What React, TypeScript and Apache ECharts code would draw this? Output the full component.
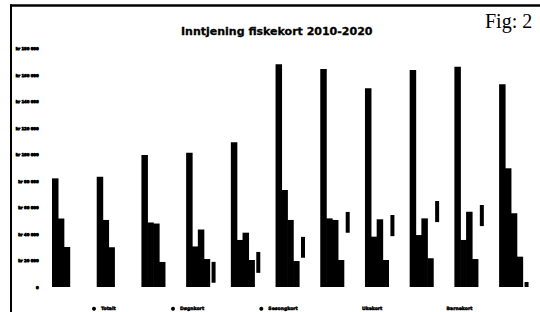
import React, { useEffect, useRef } from "react";
import * as echarts from "echarts";

const categories = ["2010", "2011", "2012", "2013", "2014", "2015", "2016", "2017", "2018", "2019", "2020"];
const seriesNames = ["Totalt", "Døgnkort", "Sesongkort", "Ukekort", "Barnekort"];
const totalt = [82000, 83200, 99600, 101400, 109200, 168100, 164500, 150000, 163800, 166300, 153000];
const dognkort = [51700, 50600, 48700, 30600, 35500, 73200, 51800, 38000, 39200, 35500, 89600];
const sesongkort = [30200, 30000, 47900, 43400, 41000, 50600, 50600, 51100, 51800, 56800, 55600];
const ukekort = [0, 0, 18900, 21100, 20400, 19600, 20400, 20400, 21700, 21100, 22900];
const barnekort = [0, 0, 0, 19100, 26600, 38000, 56800, 54300, 64900, 61900, 3800];
const yMin = 0;
const yMax = 180000;
const yStep = 20000;

function fmt(v: number): string {
  if (v === 0) return "0";
  const s = String(Math.round(v));
  return "kr " + s.replace(/\B(?=(\d{3})+(?!\d))/g, " ");
}

export default function App() {
  const ref = useRef<HTMLDivElement>(null);
  useEffect(() => {
    if (!ref.current) return;
    const chart = echarts.init(ref.current, undefined, { renderer: "svg" });
    const blackBar = {
      type: "bar" as const,
      barWidth: 6.5,
      barGap: "-10%",
      itemStyle: { color: "#000" },
    };
    const legendText = { fontFamily: "DejaVu Sans", fontWeight: "bold" as const, fontSize: 4.6, color: "#000", textBorderColor: "#000", textBorderWidth: 0.5 };
    const option: any = {
      animation: false,
      backgroundColor: "#fff",
      title: {
        text: "Inntjening fiskekort 2010-2020",
        left: 181,
        top: 26,
        padding: 0,
        textStyle: { fontFamily: "DejaVu Sans", fontWeight: "bold", fontSize: 11, color: "#000", textBorderColor: "#000", textBorderWidth: 0.3 },
      },
      graphic: [
        { type: "line", shape: { x1: 11, y1: 4.5, x2: 11, y2: 312 }, style: { stroke: "#000", lineWidth: 2 } },
        { type: "line", shape: { x1: 10, y1: 5.5, x2: 540, y2: 5.5 }, style: { stroke: "#000", lineWidth: 2.5 } },
        {
          type: "text",
          x: 485,
          y: 11,
          style: { text: "Fig: 2", fontFamily: "Liberation Serif", fontSize: 20, fill: "#000", textVerticalAlign: "top" },
        },
      ],
      legend: {
        data: [
          { name: seriesNames[0], textStyle: legendText },
          { name: seriesNames[1], textStyle: legendText },
          { name: seriesNames[2], textStyle: legendText },
          { name: seriesNames[3], icon: "none", textStyle: legendText },
          { name: seriesNames[4], icon: "none", textStyle: legendText },
        ],
        left: 92,
        top: 306,
        padding: 0,
        itemGap: 55,
        itemWidth: 4,
        itemHeight: 4,
        icon: "circle",
        textStyle: legendText,
      },
      grid: { left: 44.6, right: 3.6, top: 48.5, bottom: 25 },
      xAxis: {
        type: "category",
        data: categories,
        axisLine: { show: false },
        axisTick: { show: false },
        axisLabel: { show: false },
      },
      yAxis: {
        type: "value",
        min: yMin,
        max: yMax,
        interval: yStep,
        axisLine: { show: false },
        axisTick: { show: false },
        splitLine: { show: false },
        axisLabel: {
          margin: 6,
          formatter: fmt,
          fontFamily: "DejaVu Sans",
          fontWeight: "bold",
          fontSize: 3.8,
          color: "#000",
          textBorderColor: "#000",
          textBorderWidth: 0.8,
        },
      },
      series: [
        { ...blackBar, name: seriesNames[0], data: totalt },
        { ...blackBar, name: seriesNames[1], data: dognkort },
        { ...blackBar, name: seriesNames[2], data: sesongkort },
        { ...blackBar, name: seriesNames[3], data: ukekort },
        {
          type: "bar",
          barWidth: 6.5,
          barGap: "-10%",
          name: seriesNames[4],
          data: barnekort,
          itemStyle: { color: "rgba(255,255,255,0)" },
        },
        {
          type: "pictorialBar",
          name: seriesNames[4],
          data: barnekort,
          symbol: "rect",
          symbolSize: [4, 21],
          symbolPosition: "end",
          symbolOffset: [12.5, 0],
          symbolClip: true,
          itemStyle: { color: "#000" },
          z: 3,
        },
      ],
    };
    chart.setOption(option);
    return () => chart.dispose();
  }, []);
  return (
    <div
      ref={ref}
      style={{ position: "fixed", left: 0, top: 0, width: 540, height: 312, background: "#fff" }}
    />
  );
}
